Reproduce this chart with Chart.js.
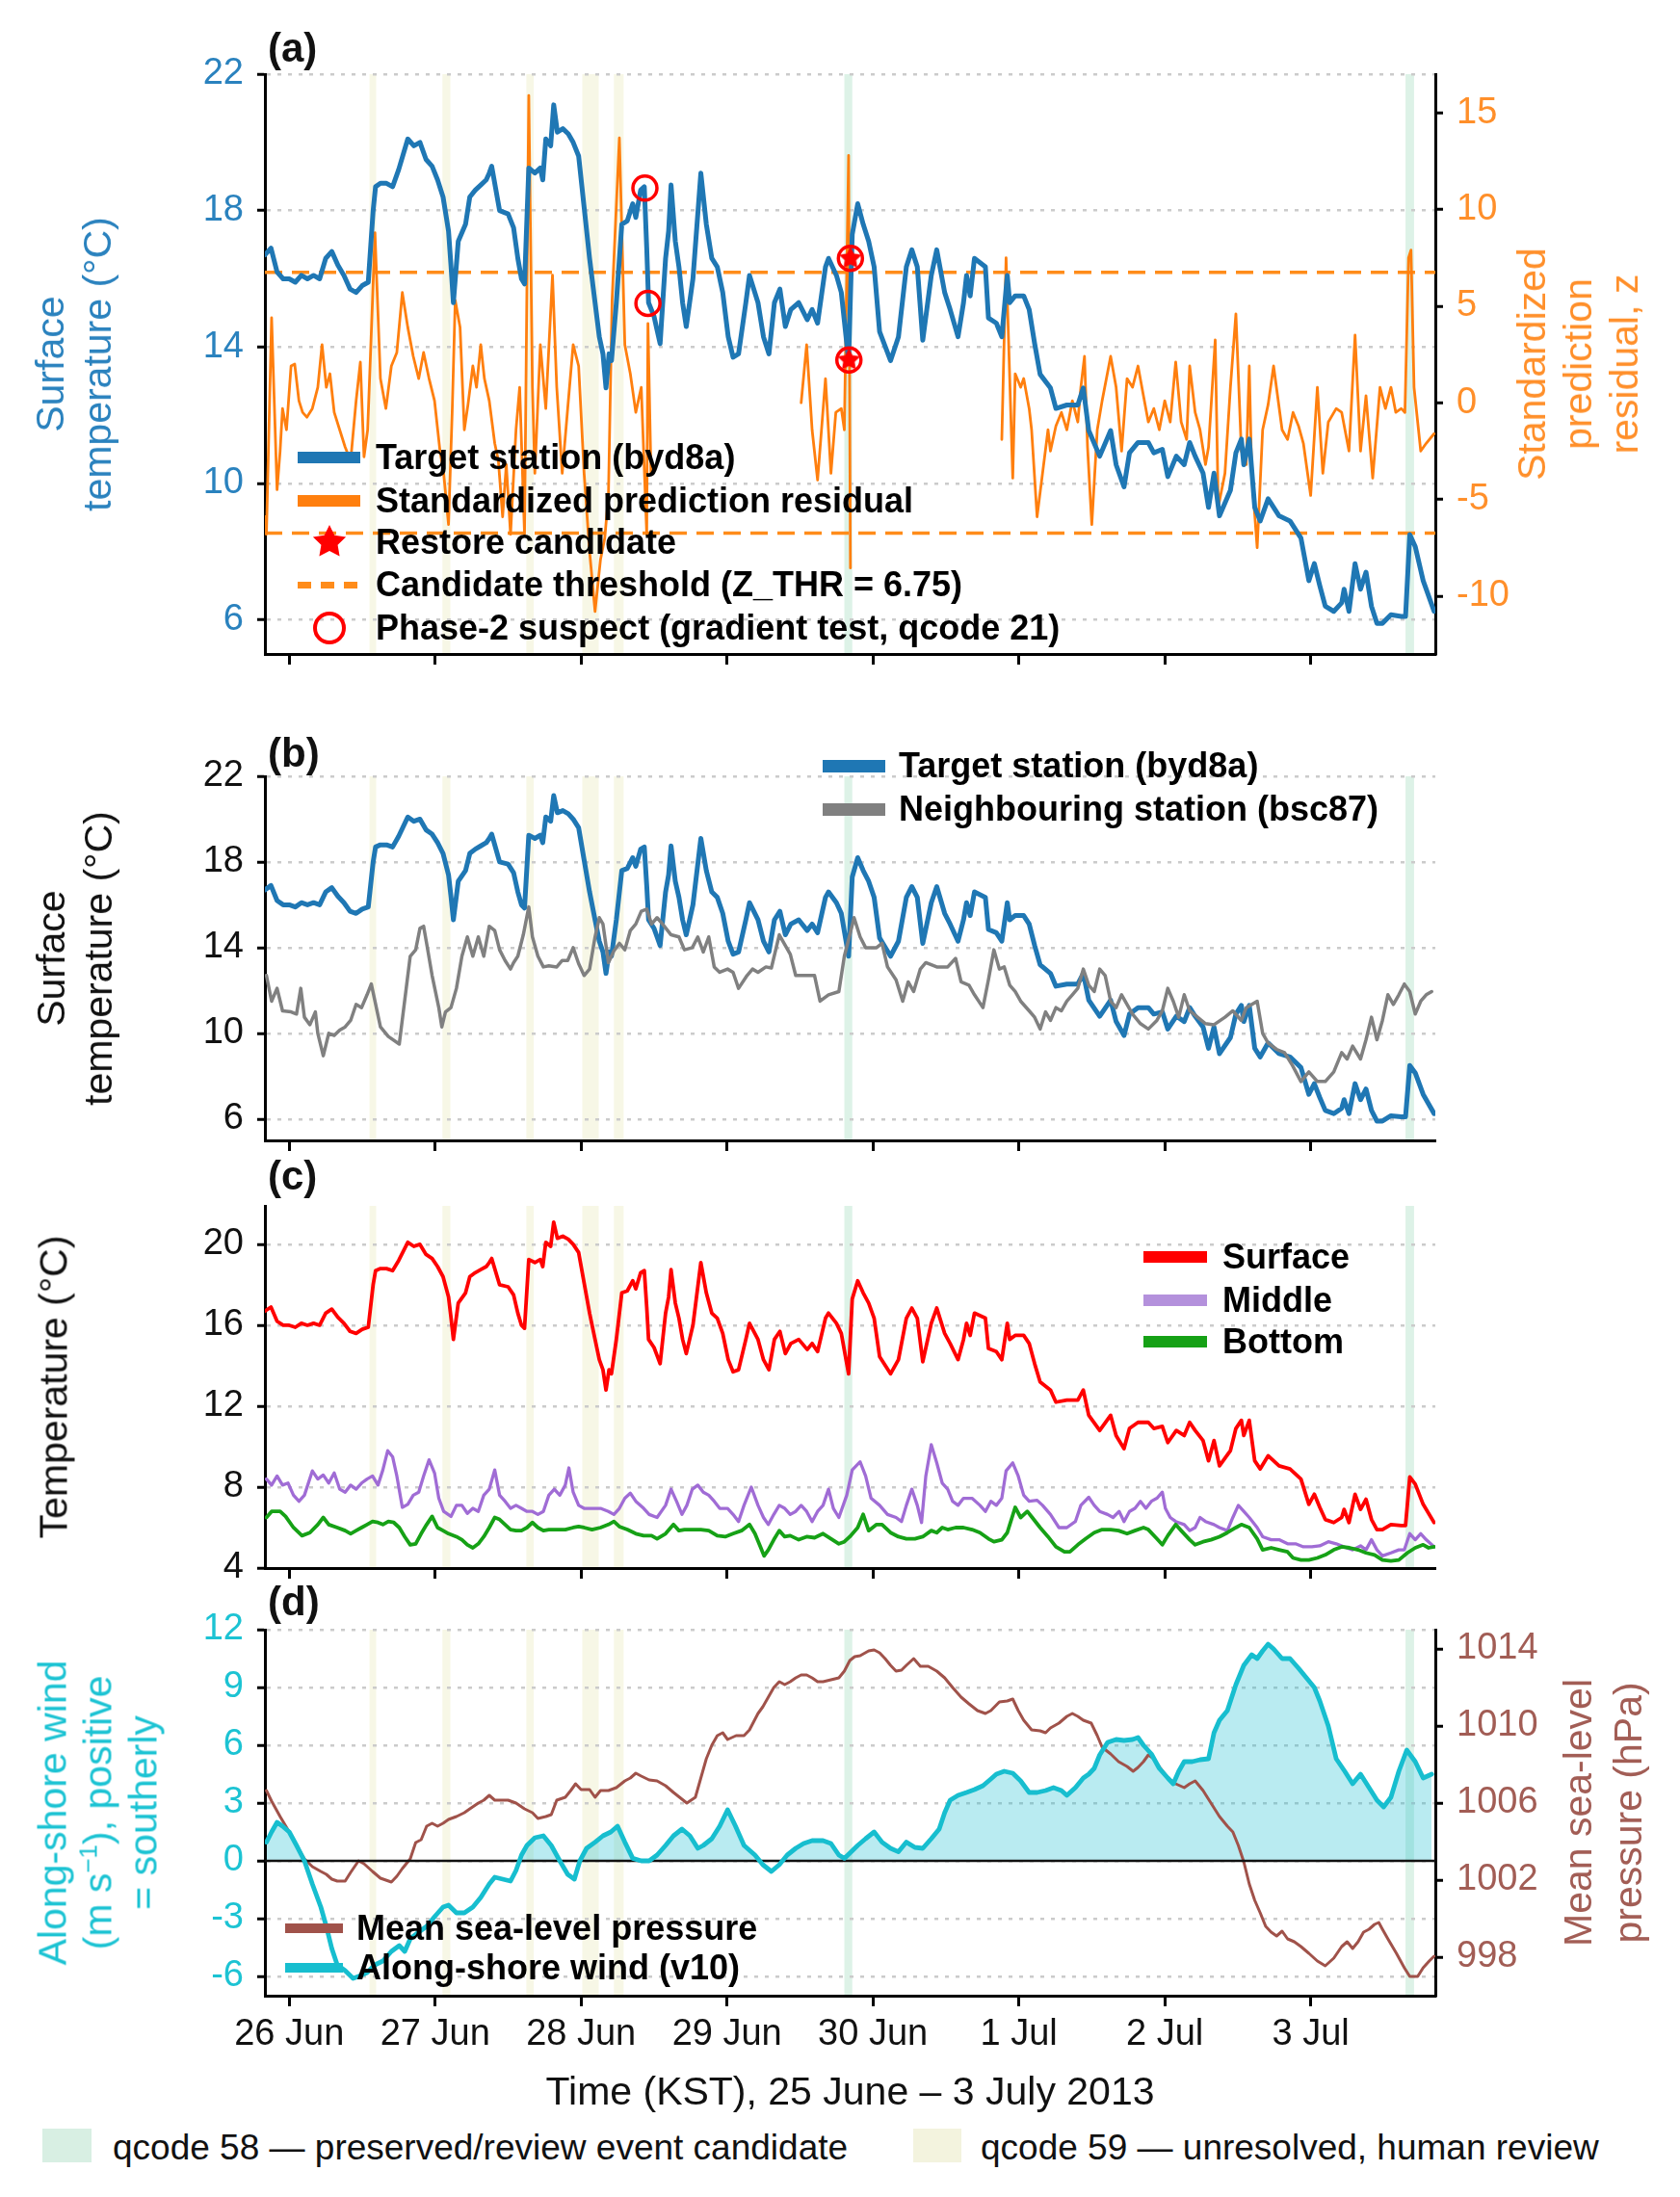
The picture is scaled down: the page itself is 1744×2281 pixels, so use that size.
<!DOCTYPE html>
<html><head><meta charset="utf-8">
<script src="https://cdn.jsdelivr.net/npm/chart.js@4.4.1/dist/chart.umd.min.js"></script>
<style>
html,body{margin:0;padding:0;background:#fff;}
#page{position:relative;width:1744px;height:2281px;overflow:hidden;font-family:"Liberation Sans",Arial,Helvetica,sans-serif;background:#fff;}
canvas{position:absolute;left:0;}
.lbl{position:absolute;font-weight:bold;font-size:42px;line-height:48px;color:#111;white-space:nowrap;}
.lg{position:absolute;font-weight:bold;font-size:36px;line-height:44px;color:#000;white-space:nowrap;}
.sw{position:absolute;}
.rot{position:absolute;transform:translate(-50%,-50%) rotate(-90deg);white-space:nowrap;text-align:center;font-size:41px;line-height:49px;}
.bl{position:absolute;font-size:37px;line-height:44px;color:#111;white-space:nowrap;}
</style></head><body><div id="page">
<canvas id="ca" width="1744" height="652" style="top:47px;width:1744px;height:652px"></canvas>
<canvas id="cb" width="1744" height="428" style="top:776px;width:1744px;height:428px"></canvas>
<canvas id="cc" width="1744" height="426" style="top:1222px;width:1744px;height:426px"></canvas>
<canvas id="cd" width="1744" height="490" style="top:1662px;width:1744px;height:490px"></canvas>

<div class="lbl" style="left:278px;top:26px">(a)</div>
<div class="lbl" style="left:278px;top:758px">(b)</div>
<div class="lbl" style="left:278px;top:1197px">(c)</div>
<div class="lbl" style="left:278px;top:1639px">(d)</div>

<div class="rot" style="left:77px;top:378px;color:#2a82be">Surface<br>temperature (°C)</div>
<div class="rot" style="left:1638px;top:378px;color:#ff8f2a;line-height:48px">Standardized<br>prediction<br>residual, z</div>
<div class="rot" style="left:78px;top:995px;color:#111">Surface<br>temperature (°C)</div>
<div class="rot" style="left:56px;top:1440px;color:#111">Temperature (°C)</div>
<div class="rot" style="left:102px;top:1882px;color:#1cc3d3;line-height:47px">Along-shore wind<br>(m s<sup style="font-size:26px;line-height:0">−1</sup>), positive<br>= southerly</div>
<div class="rot" style="left:1664px;top:1882px;color:#a25d55;line-height:52px">Mean sea-level<br>pressure (hPa)</div>

<!-- legend (a) -->
<div class="sw" style="left:309px;top:469px;width:65px;height:12px;background:#1f77b4"></div>
<div class="lg" style="left:390px;top:453px">Target station (byd8a)</div>
<div class="sw" style="left:309px;top:514px;width:65px;height:12px;background:#ff7f0e"></div>
<div class="lg" style="left:390px;top:498px">Standardized prediction residual</div>
<img id="legStar" class="sw" style="left:323px;top:544px;width:38px;height:38px" alt="">
<div class="lg" style="left:390px;top:541px">Restore candidate</div>
<div class="sw" style="left:309px;top:604px;width:62px;height:7px;background:repeating-linear-gradient(90deg,#ff8c1a 0 14px,rgba(0,0,0,0) 14px 24px)"></div>
<div class="lg" style="left:390px;top:585px">Candidate threshold (Z_THR = 6.75)</div>
<div class="sw" style="left:325px;top:635px;width:26px;height:26px;border:4px solid #ff0000;border-radius:50%"></div>
<div class="lg" style="left:390px;top:630px">Phase-2 suspect (gradient test, qcode 21)</div>

<!-- legend (b) -->
<div class="sw" style="left:854px;top:789px;width:65px;height:13px;background:#1f77b4"></div>
<div class="lg" style="left:933px;top:773px">Target station (byd8a)</div>
<div class="sw" style="left:854px;top:834px;width:65px;height:13px;background:#808080"></div>
<div class="lg" style="left:933px;top:818px">Neighbouring station (bsc87)</div>

<!-- legend (c) -->
<div class="sw" style="left:1187px;top:1299px;width:66px;height:12px;background:#ff0000"></div>
<div class="lg" style="left:1269px;top:1283px">Surface</div>
<div class="sw" style="left:1187px;top:1344px;width:66px;height:12px;background:#b491dc"></div>
<div class="lg" style="left:1269px;top:1328px">Middle</div>
<div class="sw" style="left:1187px;top:1387px;width:66px;height:12px;background:#16a116"></div>
<div class="lg" style="left:1269px;top:1371px">Bottom</div>

<!-- legend (d) -->
<div class="sw" style="left:296px;top:1997px;width:60px;height:10px;background:#a0524a"></div>
<div class="lg" style="left:370px;top:1980px">Mean sea-level pressure</div>
<div class="sw" style="left:296px;top:2038px;width:60px;height:10px;background:#17becf"></div>
<div class="lg" style="left:370px;top:2021px">Along-shore wind (v10)</div>

<div style="position:absolute;left:275px;width:1215px;top:2146px;text-align:center;font-size:41px;line-height:50px;color:#111;white-space:nowrap">Time (KST), 25 June – 3 July 2013</div>

<div class="sw" style="left:44px;top:2210px;width:51px;height:35px;background:#d8efe3"></div>
<div class="bl" style="left:117px;top:2208px">qcode 58 — preserved/review event candidate</div>
<div class="sw" style="left:948px;top:2210px;width:50px;height:35px;background:#f3f3de"></div>
<div class="bl" style="left:1018px;top:2208px">qcode 59 — unresolved, human review</div>
</div>

<script>
// ---------- axis / tick definitions ----------
const X_MIN = -4, X_MAX = 188.5;               // hours from 26 Jun 00:00 KST
const dayTickHours  = [0, 24, 48, 72, 96, 120, 144, 168];
const dayTickLabels = ['26 Jun','27 Jun','28 Jun','29 Jun','30 Jun','1 Jul','2 Jul','3 Jul'];
const tempTicksAB   = [6, 10, 14, 18, 22];
const residualTicks = [-10, -5, 0, 5, 10, 15];
const tempTicksC    = [4, 8, 12, 16, 20];
const windTicks     = [-6, -3, 0, 3, 6, 9, 12];
const pressureTicks = [998, 1002, 1006, 1010, 1014];
const Z_THR = 6.75;
const WIND_ZERO = 0;

// ---------- flagged periods (hours) ----------
const qcode58Bands = [[91.3, 92.6], [183.6, 185.0]];
const qcode59Bands = [[13.2, 14.3], [25.2, 26.5], [39.0, 40.2], [48.2, 50.9], [53.4, 55.0]];

// ---------- markers [hour, °C] ----------
const suspectPoints = [[58.5, 18.66], [59.0, 15.28], [92.3, 16.6], [92.05, 13.62]];
const restorePoints = [[92.3, 16.6], [92.05, 13.62]];

// ---------- series [hour, value] ----------
const targetTemp = [
[-4,16.7],[-3,16.9],[-2,16.2],[-1,16.0],[0,16.0],[1,15.9],[2,16.1],[3,16.0],[4,16.1],[5,16.0],[6,16.6],[7,16.8],[8,16.4],[9,16.1],[10,15.7],[11,15.6],[12,15.8],[13,15.9],[13.8,18.0],[14.2,18.7],[15,18.8],[16,18.8],[17,18.7],[18,19.2],[19.5,20.1],[20.5,19.9],[21.5,20.0],[22.5,19.5],[23.5,19.3],[24.4,18.9],[25.3,18.4],[26.2,17.4],[26.6,16.4],[27,15.3],[27.8,17.1],[29,17.6],[29.7,18.4],[30.6,18.6],[31.5,18.75],[32.4,18.9],[32.9,19.1],[33.3,19.3],[34.6,18.0],[36,17.9],[36.9,17.5],[37.6,16.6],[38.2,16.0],[38.7,15.85],[39.4,19.25],[40.4,19.1],[41.3,19.25],[41.7,18.9],[42.2,20.1],[43,19.9],[43.5,21.1],[44.1,20.3],[45,20.4],[45.9,20.25],[46.7,20.0],[47.6,19.6],[48.5,18.1],[49.4,16.6],[50.3,15.3],[51,14.3],[51.6,13.8],[52.1,12.8],[52.6,13.8],[53,13.6],[53.8,15.3],[54.7,17.6],[55.6,17.7],[56.5,18.2],[57,17.8],[57.8,18.6],[58.4,18.7],[58.8,16.9],[59.1,15.3],[60,14.9],[60.5,14.5],[61,14.1],[61.9,16.6],[62.4,17.4],[62.8,18.75],[63.5,17.1],[64.1,16.35],[64.7,15.3],[65.3,14.6],[66.4,16.0],[67.7,19.1],[68.6,17.6],[69.5,16.6],[70.4,16.35],[71.3,15.6],[72.2,14.3],[73,13.7],[73.9,13.8],[75.1,15.3],[75.7,16.1],[77.1,15.3],[78,14.3],[78.9,13.8],[79.8,15.3],[80.7,15.7],[81.6,14.6],[82.5,15.1],[83.8,15.3],[85.2,14.8],[86,15.1],[86.9,14.7],[88.2,16.35],[88.7,16.6],[90,16.1],[90.8,15.6],[91.7,14.1],[92,13.6],[92.6,17.3],[93.5,18.2],[94.4,17.6],[95.3,17.1],[96.2,16.35],[97.1,14.45],[98.9,13.6],[100.2,14.3],[101.5,16.35],[102.4,16.85],[103.3,16.35],[104.2,14.2],[105.6,16.1],[106.5,16.85],[107.8,15.6],[108.7,15.1],[110,14.3],[110.9,15.3],[111.4,16.1],[112,15.5],[112.7,16.6],[114.5,16.35],[115,14.85],[116.3,14.7],[117.2,14.3],[118.1,16.1],[118.5,15.3],[119.4,15.5],[120.8,15.5],[121.7,15.1],[122.6,14.1],[123.5,13.2],[125.2,12.8],[126.1,12.2],[127.9,12.3],[129.7,12.3],[130.6,12.8],[131.5,11.55],[133.3,10.8],[135.1,11.55],[136,10.55],[137.3,9.9],[138.2,10.9],[139.6,11.2],[141.3,11.2],[142.2,10.9],[143.6,11.0],[144.5,10.2],[145.9,10.8],[147.2,10.55],[148.1,11.2],[149,10.8],[150.3,10.3],[151.2,9.3],[152.1,10.3],[153,9.05],[154.8,9.8],[155.7,10.9],[156.6,11.3],[157,10.55],[157.9,11.3],[158.8,9.3],[159.7,8.9],[161,9.55],[162.8,9.05],[164.6,8.9],[166.4,8.4],[167.7,7.15],[168.6,7.65],[169.5,7.0],[170.4,6.4],[171.8,6.25],[173.1,6.5],[173.5,6.9],[174.3,6.25],[175.3,7.65],[176.2,6.9],[177.1,7.4],[178,6.4],[178.9,5.9],[179.8,5.9],[181.2,6.15],[182.9,6.1],[183.6,6.1],[184.3,8.5],[185.2,8.15],[186.5,7.15],[188.3,6.25]
];

const residualZ = [
[-4,-5.9],[-3.75,-6.8],[-2.9,4.4],[-2,-4.5],[-1.5,-2.5],[-1.1,-0.3],[-0.45,-1.4],[0.3,1.9],[0.9,2.0],[1.6,0.1],[2.2,-0.5],[2.9,-0.75],[3.8,-0.3],[4.7,0.8],[5.4,3.0],[6.1,0.8],[6.7,1.5],[7.4,-0.5],[8.3,-1.4],[9.2,-2.3],[10.1,-3.0],[11,0.1],[11.7,2.1],[12.3,-2.8],[12.9,-1.4],[13.7,5.3],[14.1,8.8],[15,1.25],[15.9,-0.3],[16.8,1.9],[17.7,2.6],[18.6,5.7],[19.5,3.9],[20.4,2.4],[21.3,1.25],[22.1,2.6],[23,1.25],[23.9,0.1],[24.8,-2.5],[25.4,-3.65],[26.2,-6.3],[26.8,-0.5],[27.3,5.3],[28.1,3.9],[28.8,-1.4],[29.4,-0.1],[30.2,1.9],[30.8,0.8],[31.5,3.0],[32.1,1.25],[32.9,0.1],[33.8,-2.1],[34.4,-3.0],[35.1,-5.9],[35.7,-3.2],[36.4,-6.8],[37.3,-1.4],[37.9,0.8],[38.7,-6.8],[39.4,15.9],[40,0.8],[40.4,-3.65],[41.3,3.0],[42.2,-0.3],[43.3,6.6],[44,0.8],[44.9,-3.65],[45.8,-0.3],[46.7,3.0],[47.6,1.9],[48.5,-3.65],[49.4,-7.7],[50.3,-10.8],[51.2,-8.1],[51.9,-7.0],[52.5,-4.8],[53.1,5.3],[54.3,13.7],[55.2,3.0],[56.1,1.5],[57,-0.5],[57.9,0.8],[58.8,-6.8],[59,4.1],[59.5,-3.65],[59.8,null],
[84.2,0.0],[85.1,3.0],[86,-1.4],[86.9,-4.0],[88.2,1.25],[89.1,-3.65],[89.9,-0.5],[90.8,-0.3],[91.3,-1.4],[92,12.8],[92.3,-8.55],[92.5,null],
[117.2,-1.9],[117.9,7.5],[119,-3.9],[119.4,1.5],[120.3,0.8],[120.8,1.25],[121.7,-0.3],[122.1,-1.4],[123,-5.9],[123.9,-3.65],[124.8,-1.4],[125.2,-2.5],[126.1,-1.2],[127,-0.5],[127.9,-1.4],[128.8,0.1],[129.7,-1.0],[130.2,0.8],[130.8,2.4],[131.3,-2.3],[132,-6.3],[132.9,-1.4],[133.7,0.1],[135.1,2.4],[136,0.8],[136.9,-2.5],[137.8,1.25],[138.7,0.8],[139.6,1.9],[140.5,0.36],[141.3,-1.0],[142.2,-0.3],[143.1,-1.4],[144,0.1],[144.9,-1.0],[145.8,2.1],[146.7,-1.0],[147.6,-1.9],[148.1,1.9],[149,-0.5],[149.8,-1.4],[150.7,-3.2],[151.2,-2.3],[152.3,3.25],[152.8,-5.4],[153.9,-3.65],[154.8,0.8],[155.7,4.6],[156.6,-2.5],[157.4,-3.2],[157.9,1.9],[158.3,-3.65],[159.2,-7.5],[160.1,-1.4],[161,-0.1],[161.9,1.9],[163.3,-1.4],[164.2,-1.9],[165.1,-0.5],[166,-1.2],[166.8,-2.1],[168,-4.8],[169.1,0.8],[170,-3.65],[170.9,-1.0],[172.2,-0.3],[173.1,-0.5],[174.3,-2.5],[175.3,3.5],[176.2,-2.5],[177.1,0.36],[178.2,-3.9],[179.4,0.8],[180.3,-0.3],[181.2,0.8],[182,-0.5],[182.9,-0.3],[183.5,-0.5],[184.1,7.5],[184.5,7.9],[185,0.8],[186.1,-2.5],[187,-2.1],[188.3,-1.6]
];

const neighbourTemp = [
[-3.75,12.7],[-2.9,11.5],[-2,12.1],[-1.1,11.05],[0.3,11.0],[1.2,10.9],[1.9,12.1],[2.5,10.75],[3.4,10.4],[4.3,11.0],[4.7,10.0],[5.6,8.95],[6.5,10.0],[7.4,9.9],[8.3,10.15],[9.2,10.3],[10.1,10.6],[11,11.35],[11.9,11.2],[12.8,11.8],[13.5,12.3],[14.1,11.5],[15,10.3],[16.3,9.85],[18.1,9.5],[19.9,13.6],[20.8,13.9],[21.5,14.9],[22.1,15.0],[22.6,14.2],[23.5,12.7],[24.6,11.2],[25.1,10.3],[25.7,11.0],[26.6,11.2],[27.5,12.1],[28.4,13.6],[29.3,14.5],[30.2,13.6],[31.1,14.5],[32,13.6],[32.9,15.0],[33.8,14.8],[34.6,13.9],[35.5,13.4],[36.4,13.0],[36.9,13.3],[37.6,13.6],[38.5,14.6],[39.4,15.9],[40,14.5],[40.9,13.6],[41.8,13.1],[42.7,13.15],[44,13.1],[44.9,13.4],[45.8,13.4],[46.7,14.0],[47.6,13.25],[48.5,12.7],[49.4,13.0],[50.3,14.5],[51,15.4],[51.6,15.1],[52.5,13.3],[53.4,13.85],[54.3,14.2],[55.2,13.9],[56.1,14.8],[57,15.1],[57.9,15.7],[58.8,15.8],[59.6,15.1],[60.5,15.4],[61.4,15.1],[62.8,14.6],[64.1,14.5],[65,13.9],[66.3,14.0],[67.2,14.5],[68.1,13.8],[69,14.5],[69.9,13.1],[70.8,12.85],[72.1,13.0],[73,12.85],[73.9,12.1],[75.3,12.7],[76.2,13.0],[77.1,12.85],[78.4,13.1],[79.3,13.05],[80.6,14.6],[81.5,14.15],[82.4,13.7],[83.3,12.7],[85.1,12.7],[86.4,12.7],[87.3,11.5],[88.7,11.8],[90.4,11.95],[91.3,13.6],[92.2,14.6],[92.9,15.4],[93.9,14.5],[94.8,14.0],[96.6,14.0],[97.5,14.2],[98.4,13.1],[99.8,12.5],[100.9,11.5],[101.8,12.4],[102.7,11.95],[103.8,13.0],[104.7,13.3],[106.5,13.1],[108.3,13.1],[109.6,13.5],[110.5,12.4],[111.8,12.25],[112.7,11.8],[114.1,11.2],[115,12.5],[115.9,13.9],[116.8,13.0],[117.6,13.1],[118.5,12.25],[119.4,11.95],[120.3,11.5],[121.7,11.05],[122.6,10.75],[123.5,10.2],[124.4,11.0],[125.2,10.6],[126.1,11.2],[127,11.05],[127.9,11.5],[128.8,11.8],[129.7,12.1],[130.6,13.0],[131.5,12.25],[132.4,11.95],[133.3,13.0],[134.2,12.7],[135.1,11.5],[136,11.2],[136.9,11.8],[137.8,11.35],[138.7,10.9],[140,10.45],[141.3,10.2],[142.7,10.6],[143.6,11.05],[144.5,12.1],[145.4,11.5],[146.3,10.75],[147.2,11.8],[148.1,11.05],[149.4,10.75],[150.7,10.45],[152.1,10.4],[153.9,10.75],[155.2,11.05],[156.6,10.6],[157.4,11.2],[159.2,11.5],[160.1,10.0],[161,9.55],[162.4,9.25],[163.7,9.1],[165,8.5],[166.4,7.75],[167.7,8.2],[169.1,7.75],[170.4,7.75],[171.8,8.2],[173.1,9.1],[174,8.8],[174.9,9.4],[176.2,8.8],[177.1,9.7],[178,10.75],[178.9,9.7],[179.8,10.6],[180.7,11.8],[181.6,11.35],[182.5,11.8],[183.4,12.3],[184.3,11.95],[185.2,10.9],[186.1,11.5],[187,11.8],[187.9,11.95]
];

const middleTemp = [
[-3.75,8.4],[-2.9,8.1],[-2,8.55],[-1.1,8.1],[-0.2,8.2],[0.7,7.6],[1.6,7.3],[2.5,7.6],[3.8,8.8],[4.7,8.4],[5.6,8.6],[6.5,8.2],[7.4,8.7],[8.3,7.9],[9.2,7.75],[10.1,8.1],[11,7.9],[11.9,8.2],[12.8,8.4],[13.7,8.55],[14.6,8.1],[15.4,8.85],[16.2,9.8],[17,9.5],[17.7,8.55],[18.6,7.0],[19.5,7.15],[20.4,7.6],[21.3,7.75],[22.1,8.55],[23,9.35],[23.9,8.7],[24.6,7.45],[25.4,6.8],[26.6,6.55],[27.5,7.1],[28.4,7.1],[29.3,6.7],[30.2,6.95],[31.1,6.8],[32,7.6],[32.9,7.9],[33.8,8.85],[34.6,7.6],[35.5,7.3],[36.4,6.95],[37.3,7.1],[38.2,6.95],[39.1,6.8],[40,6.8],[40.9,6.65],[41.8,6.8],[42.7,7.6],[43.6,7.9],[44.5,7.6],[45.4,8.1],[46,8.95],[46.7,7.75],[47.6,7.1],[48.5,6.95],[49.8,6.95],[51.2,6.95],[52.5,6.8],[53.4,6.65],[54.3,6.95],[55.2,7.45],[56.1,7.7],[57,7.3],[58.3,6.95],[59.2,6.65],[60.5,6.5],[61.9,7.1],[62.8,7.9],[63.7,7.3],[64.6,6.65],[65.4,7.1],[66.3,7.9],[67.2,8.1],[68.1,7.75],[69,7.6],[69.9,7.3],[70.8,6.95],[72.1,6.95],[73,6.65],[73.9,6.3],[74.8,7.1],[76,8.0],[77.1,7.1],[78,6.5],[78.8,6.15],[79.7,6.65],[80.6,7.1],[81.5,6.95],[82.4,6.65],[83.3,6.8],[84.2,7.1],[85.1,6.8],[86,6.3],[86.9,6.8],[87.8,7.1],[88.7,7.9],[89.5,6.95],[90.4,6.5],[91.7,7.6],[92.6,8.85],[93.9,9.25],[94.8,8.55],[95.7,7.45],[97.1,7.1],[98.4,6.65],[99.8,6.5],[100.7,6.3],[101.5,7.1],[102.4,7.9],[103.3,7.1],[104,6.25],[104.7,8.55],[105.6,10.1],[106.5,9.2],[107.4,8.2],[108.3,7.9],[109.1,7.3],[110,7.1],[110.9,7.45],[112.3,7.45],[113.6,7.1],[114.5,6.8],[115.4,7.3],[116.3,7.1],[117.2,7.45],[117.9,8.8],[119,9.2],[119.9,8.55],[120.8,7.6],[121.7,7.3],[123,7.35],[123.9,7.1],[125.2,6.65],[126.6,6.0],[127.9,6.0],[129.3,6.3],[130.2,7.1],[131.5,7.5],[132.4,7.1],[133.3,6.8],[134.6,6.65],[135.5,6.5],[136.5,6.8],[137.3,6.3],[138.2,6.8],[139.1,6.95],[140,7.3],[140.9,6.95],[141.8,7.3],[142.7,7.45],[143.6,7.75],[144.1,6.95],[144.9,6.5],[145.8,6.3],[147.2,6.15],[148.1,5.85],[149,6.0],[149.8,6.5],[150.7,6.3],[152.1,6.15],[153,6.0],[154.3,5.85],[155.2,6.5],[156.1,7.1],[157,6.8],[157.9,6.5],[159.2,6.0],[160.1,5.55],[161.5,5.4],[162.8,5.4],[164.2,5.2],[165.5,5.2],[166.8,5.05],[168.2,5.05],[169.5,5.1],[170.9,5.3],[172.2,5.2],[173.5,5.05],[174.9,4.9],[176.2,5.1],[177.1,4.9],[178,5.4],[178.9,4.9],[179.8,4.6],[181.2,4.75],[182.5,4.9],[183.4,4.9],[184.3,5.7],[185.2,5.4],[186.1,5.7],[187,5.4],[188.3,5.05]
];

const bottomTemp = [
[-3.75,6.5],[-2.9,6.8],[-1.5,6.8],[-0.6,6.55],[0.7,6.0],[2.1,5.6],[3.4,5.75],[4.7,6.15],[5.6,6.5],[6.5,6.15],[7.9,6.0],[9.2,5.85],[10.1,5.7],[11,5.85],[11.9,6.0],[12.8,6.15],[13.7,6.3],[14.6,6.25],[15.4,6.15],[16.3,6.3],[17.2,6.25],[18.1,6.0],[19,5.55],[19.9,5.15],[20.8,5.2],[21.7,5.7],[22.6,6.15],[23.5,6.55],[24.4,6.0],[25.3,5.85],[26.2,5.7],[27.5,5.55],[28.4,5.4],[29.3,5.15],[30.2,5.0],[31.1,5.2],[32,5.55],[32.9,6.0],[33.8,6.5],[34.6,6.4],[35.5,6.15],[36.4,5.9],[37.3,5.85],[38.2,5.85],[39.1,6.0],[40,6.25],[40.9,6.0],[41.8,5.85],[42.7,5.9],[44,5.9],[45.4,5.9],[46.7,6.0],[47.6,6.05],[48.5,6.0],[49.8,5.9],[51.2,6.0],[52.5,6.15],[53.4,6.3],[54.3,6.05],[55.6,5.9],[57,5.7],[58.3,5.6],[59.6,5.6],[60.5,5.45],[61.9,5.7],[63.2,6.15],[64.1,5.85],[65,5.9],[66.3,5.9],[67.7,5.9],[69,5.85],[70.4,5.6],[71.7,5.55],[73,5.7],[74.4,5.85],[75.7,6.15],[76.6,5.7],[77.5,5.05],[78.1,4.6],[78.8,4.9],[79.7,5.4],[80.6,5.85],[81.5,5.55],[82.4,5.6],[83.8,5.4],[85.1,5.55],[86.4,5.5],[87.8,5.7],[89.1,5.45],[90.4,5.2],[91.3,5.3],[92.2,5.55],[93.5,6.0],[94.4,6.65],[95.3,5.85],[96.6,6.15],[97.5,6.15],[98.9,5.75],[100.2,5.55],[101.5,5.45],[102.9,5.45],[104.2,5.55],[105.6,5.85],[106.5,5.75],[107.4,6.0],[108.3,5.9],[109.6,6.0],[110.9,6.0],[112.3,5.9],[113.6,5.75],[115,5.45],[115.9,5.3],[117.2,5.4],[118.1,5.75],[119.4,7.0],[120.3,6.5],[121.4,6.8],[122.2,6.5],[123.5,6.0],[124.8,5.55],[126.1,5.05],[127.5,4.8],[128.4,4.8],[129.7,5.15],[131,5.45],[132.4,5.75],[133.7,5.9],[135.1,5.9],[136.4,5.85],[137.8,5.7],[139.1,5.85],[140.5,6.0],[141.3,5.9],[142.7,5.45],[143.6,5.15],[144.5,5.6],[145.8,6.15],[146.7,5.85],[148.1,5.4],[149,5.15],[150.3,5.3],[151.6,5.4],[153,5.55],[154.3,5.75],[155.7,6.0],[156.6,6.15],[157.9,6.0],[159.2,5.45],[160.1,4.9],[161.5,5.0],[162.8,4.9],[164.2,4.8],[165.1,4.5],[166.4,4.4],[167.7,4.4],[169.1,4.5],[170.4,4.65],[171.8,4.9],[173.1,5.05],[174.4,5.0],[175.8,4.9],[177.1,4.75],[178.5,4.65],[179.8,4.4],[181.2,4.35],[182.5,4.4],[183.9,4.75],[185.2,5.0],[186.5,5.15],[187.4,5.0],[188.3,5.05]
];

const windV10 = [
[-3.75,0.97],[-2.9,1.5],[-2,2.0],[-1.1,1.8],[0,1.5],[1.2,0.8],[2.5,0.0],[3.8,-1.2],[5.2,-2.4],[6.1,-3.4],[7,-4.55],[7.9,-5.4],[9.2,-5.7],[10.5,-6.1],[11.4,-6.0],[12.8,-5.8],[14.1,-5.4],[15.4,-5.2],[16.8,-4.7],[18.1,-4.4],[19,-4.7],[19.9,-4.05],[21.3,-3.7],[22.6,-3.4],[23.9,-2.9],[25.3,-2.4],[26.2,-2.3],[27.5,-2.7],[28.8,-2.7],[30.2,-2.4],[31.5,-1.9],[32.9,-1.2],[33.8,-0.85],[35.1,-0.95],[36.4,-1.05],[37.3,-0.5],[38.2,0.3],[39.1,0.8],[40.4,1.2],[41.8,1.3],[43.1,0.8],[44.5,0.0],[45.8,-0.7],[46.9,-0.95],[47.8,0.0],[48.9,0.65],[50.3,0.97],[51.6,1.3],[52.9,1.5],[54,1.8],[55.2,0.97],[56.5,0.13],[57.9,0.0],[59.2,0.0],[60.5,0.3],[61.9,0.8],[63.2,1.3],[64.6,1.65],[65.9,1.3],[67.2,0.65],[68.1,0.8],[69.5,1.15],[70.8,1.8],[72.1,2.65],[73.4,1.8],[74.8,0.8],[76.6,0.3],[77.9,-0.2],[79.3,-0.55],[80.6,-0.2],[81.9,0.3],[83.3,0.65],[84.6,0.9],[86,1.05],[87.8,1.05],[89.1,0.9],[90.4,0.3],[91.3,0.13],[92.2,0.4],[93.5,0.8],[94.8,1.15],[96.2,1.5],[97.5,0.97],[98.9,0.65],[100.2,0.47],[101.5,0.97],[102.9,0.7],[104.2,0.65],[105.6,1.15],[106.9,1.65],[107.8,2.5],[108.7,3.15],[110,3.4],[111.4,3.55],[112.7,3.7],[114.1,3.9],[115.4,4.25],[116.3,4.5],[117.6,4.65],[119,4.55],[120.3,4.15],[121.7,3.55],[123,3.55],[124.4,3.65],[125.7,3.8],[127,3.65],[127.9,3.4],[129.3,3.8],[130.6,4.3],[131.5,4.5],[132.4,4.8],[133.3,5.5],[134.6,6.15],[136,6.3],[137.3,6.25],[138.7,6.3],[139.6,6.4],[140.5,6.0],[141.8,5.55],[143.1,4.8],[144.5,4.3],[145.4,4.0],[146.3,4.65],[147.2,5.15],[148.5,5.15],[149.8,5.25],[151.2,5.3],[152.1,6.65],[153,7.3],[154.3,7.8],[155.7,9.15],[157,10.15],[158.3,10.7],[159.2,10.5],[160.1,10.9],[161,11.25],[161.9,11.0],[163.3,10.5],[164.6,10.5],[166,10.0],[167.3,9.5],[168.6,9.0],[169.5,8.3],[170.9,7.0],[172.2,5.3],[173.6,4.65],[174.9,4.0],[176.2,4.5],[177.6,3.8],[178.9,3.15],[180,2.8],[181.2,3.3],[182.5,4.65],[183.8,5.75],[185.2,5.15],[186.5,4.3],[187.9,4.5]
];

const mslPressure = [
[-3.75,1006.65],[-2.9,1006.1],[-1.5,1005.3],[0,1004.5],[1.2,1003.8],[2.5,1003.1],[3.8,1002.7],[5.2,1002.45],[6.1,1002.3],[7,1002.05],[7.9,1001.95],[9.2,1001.95],[10.1,1002.4],[11.4,1003.0],[12.3,1002.85],[13.7,1002.45],[15,1002.1],[16.8,1001.9],[17.7,1002.2],[18.6,1002.6],[19.9,1003.1],[20.8,1003.95],[21.7,1004.1],[22.6,1004.8],[23.5,1004.95],[24.4,1004.8],[25.3,1004.95],[26.2,1005.15],[27.5,1005.3],[28.8,1005.5],[29.7,1005.7],[31.1,1006.0],[32,1006.15],[32.9,1006.4],[33.8,1006.15],[34.6,1006.15],[36,1006.15],[37.3,1006.0],[38.7,1005.7],[40,1005.5],[40.9,1005.2],[42.2,1005.3],[43.1,1005.4],[44,1006.15],[45.4,1006.3],[46.3,1006.65],[47.1,1007.0],[48,1006.7],[49.4,1006.7],[50.3,1006.3],[51.2,1006.65],[52.5,1006.65],[53.8,1006.8],[55.2,1007.15],[56.1,1007.3],[57,1007.55],[57.9,1007.4],[59.2,1007.2],[60.5,1007.15],[61.9,1006.9],[63.2,1006.55],[64.6,1006.2],[65.4,1006.0],[66.8,1006.3],[67.7,1007.3],[68.6,1008.3],[69.5,1009.0],[70.4,1009.5],[71.3,1009.65],[72.1,1009.3],[73.5,1009.5],[74.8,1009.5],[75.7,1009.8],[77.1,1010.65],[77.9,1011.0],[78.8,1011.5],[79.7,1012.0],[80.6,1012.3],[81.5,1012.15],[82.4,1012.3],[83.3,1012.5],[84.2,1012.65],[85.1,1012.65],[86,1012.5],[86.9,1012.3],[87.8,1012.3],[89.1,1012.4],[90.4,1012.5],[91.3,1012.85],[92.2,1013.4],[93,1013.6],[93.9,1013.65],[95.3,1013.9],[96.2,1013.95],[97.1,1013.8],[98,1013.5],[98.9,1013.15],[99.8,1012.85],[100.7,1012.9],[101.5,1013.15],[102.7,1013.5],[103.8,1013.1],[105.1,1013.1],[106.5,1012.85],[107.8,1012.5],[109.1,1012.0],[110.5,1011.5],[111.8,1011.15],[113.2,1010.8],[114.5,1010.65],[115.4,1010.8],[116.8,1011.25],[118.1,1011.3],[119,1011.4],[119.9,1010.8],[120.8,1010.3],[122.1,1009.8],[123.5,1009.75],[124.4,1009.65],[125.2,1009.9],[126.6,1010.15],[127.9,1010.5],[128.8,1010.65],[129.7,1010.5],[130.6,1010.3],[131.9,1010.15],[132.9,1009.5],[133.7,1008.9],[135.1,1008.55],[136.4,1008.15],[137.8,1007.9],[138.8,1007.65],[139.6,1007.85],[140.5,1008.15],[141.3,1008.5],[142.2,1008.3],[143.3,1007.8],[144.5,1007.3],[145.8,1007.0],[147.2,1006.8],[148.1,1007.0],[149,1007.15],[150.3,1006.65],[151.6,1006.0],[153,1005.3],[154.3,1004.8],[155.2,1004.5],[156.1,1003.8],[157,1002.95],[157.9,1001.8],[158.8,1000.95],[159.7,1000.3],[160.6,999.6],[161.5,999.3],[162.4,999.1],[163.3,999.35],[164.2,998.95],[165.3,998.8],[166.4,998.55],[167.7,998.2],[169.1,997.8],[170.4,997.55],[171.8,997.95],[173.1,998.55],[174,998.8],[174.9,998.45],[175.8,998.8],[176.7,999.3],[177.6,999.45],[178.5,999.7],[179.2,999.8],[179.8,999.45],[180.7,998.95],[182.1,998.2],[183.4,997.45],[184.3,997.0],[185.6,997.0],[186.5,997.45],[187.5,997.8],[188.3,998.05]
];

// ---------- styling ----------
const C = {blue:'#1f77b4', orange:'#ff7f0e', gray:'#808080', red:'#ff0000', purple:'#a06cd5', green:'#16a116',
           cyan:'#17becf', brown:'#a0524a', band58:'#ddf2e7', band59:'#f7f7e6',
           tickA:'#2a82be', tickZ:'#ff8f2a', tickW:'#1cc3d3', tickP:'#a25d55'};
Chart.defaults.font.family = '"Liberation Sans", Arial, Helvetica, sans-serif';
Chart.defaults.color = '#111';

const pts = arr => arr.map(([x, y]) => ({x, y}));
const across = v => [{x: X_MIN, y: v}, {x: X_MAX, y: v}];

function makeStar(r) {
  const s = Math.ceil(2 * r + 2), c = document.createElement('canvas');
  c.width = s; c.height = s;
  const g = c.getContext('2d');
  g.fillStyle = '#ff0000'; g.beginPath();
  for (let i = 0; i < 10; i++) {
    const rr = i % 2 ? r * 0.5 : r, a = -Math.PI / 2 + i * Math.PI / 5;
    g.lineTo(s / 2 + rr * Math.cos(a), s / 2 + rr * Math.sin(a));
  }
  g.closePath(); g.fill();
  return c;
}
const starMarker = makeStar(12.5);
document.getElementById('legStar').src = makeStar(18).toDataURL();

const noPad = s => { s.paddingTop = 0; s.paddingBottom = 0; s.paddingLeft = 0; s.paddingRight = 0; };

function xAxis(labels) {
  return {type: 'linear', min: X_MIN, max: X_MAX,
    afterBuildTicks: s => { s.ticks = dayTickHours.map(v => ({value: v})); },
    afterFit: s => { s.height = labels ? 80 : 20; noPad(s); },
    grid: {display: true, drawOnChartArea: false, drawTicks: true, tickLength: 11, tickColor: '#000', tickWidth: 3},
    border: {display: true, color: '#000', width: 3},
    ticks: {display: labels, color: '#111', font: {size: 38}, padding: 7, maxRotation: 0, minRotation: 0, autoSkip: false,
      callback: v => { const i = dayTickHours.indexOf(v); return i >= 0 ? dayTickLabels[i] : ''; }}
  };
}
function yAxis(pos, min, max, tickVals, color, gridOn) {
  return {type: 'linear', position: pos, min, max,
    afterBuildTicks: s => { s.ticks = tickVals.map(v => ({value: v})); },
    afterFit: s => { s.width = pos === 'left' ? 275 : 150; noPad(s); },
    grid: {display: true, drawOnChartArea: gridOn, color: '#cbcbcb', lineWidth: 2.5, drawTicks: true, tickLength: 8, tickColor: '#000', tickWidth: 3},
    border: {display: true, color: '#000', width: 3, dash: [4, 7]},
    ticks: {color, font: {size: 38}, padding: 14, autoSkip: false, callback: v => String(v)}
  };
}

// flagged-period bands are painted before the grid so the dotted grid shows through
const bandPlugin = {
  id: 'qcBands',
  beforeDraw(chart) {
    const {ctx, chartArea: a, scales: {x}} = chart;
    if (!a || !x) return;
    ctx.save();
    const paint = (bands, col) => {
      ctx.fillStyle = col;
      bands.forEach(([h0, h1]) => {
        const x0 = x.getPixelForValue(h0), x1 = x.getPixelForValue(h1);
        ctx.fillRect(x0, a.top, x1 - x0, a.bottom - a.top);
      });
    };
    paint(qcode59Bands, C.band59);
    paint(qcode58Bands, C.band58);
    ctx.restore();
  }
};

function line(data, color, width, axis, extra) {
  return Object.assign({data, borderColor: color, backgroundColor: color, borderWidth: width,
    pointRadius: 0, fill: false, yAxisID: axis || 'y', spanGaps: false}, extra || {});
}

function makeChart(id, datasets, scales, padRight) {
  return new Chart(document.getElementById(id), {
    type: 'line',
    data: {datasets},
    options: {
      responsive: false, maintainAspectRatio: false, animation: false, events: [],
      layout: {padding: {top: 30, left: 0, right: padRight, bottom: 0}, autoPadding: false},
      plugins: {legend: {display: false}, tooltip: {enabled: false}, filler: {drawTime: 'beforeDatasetsDraw'}},
      elements: {line: {tension: 0, borderJoinStyle: 'round', borderCapStyle: 'round'}, point: {radius: 0}},
      scales
    },
    plugins: [bandPlugin]
  });
}

// ---------- (a) ----------
makeChart('ca', [
  {data: pts(restorePoints), showLine: false, pointStyle: starMarker, pointRadius: 12, yAxisID: 'y'},
  {data: pts(suspectPoints), showLine: false, pointStyle: 'circle', pointRadius: 12.5, pointBorderWidth: 3.5,
   pointBorderColor: C.red, pointBackgroundColor: 'rgba(0,0,0,0)', borderColor: C.red, yAxisID: 'y'},
  line(pts(targetTemp), C.blue, 5, 'y'),
  line(pts(residualZ), C.orange, 2.8, 'y2'),
  line(across(Z_THR), '#ff8c1a', 3.5, 'y2', {borderDash: [18, 10], borderCapStyle: 'butt'}),
  line(across(-Z_THR), '#ff8c1a', 3.5, 'y2', {borderDash: [18, 10], borderCapStyle: 'butt'})
], {x: xAxis(false), y: yAxis('left', 5, 22, tempTicksAB, C.tickA, true), y2: yAxis('right', -13, 17, residualTicks, C.tickZ, false)}, 104);

// ---------- (b) ----------
makeChart('cb', [
  line(pts(neighbourTemp), C.gray, 3.5, 'y'),
  line(pts(targetTemp), C.blue, 5, 'y')
], {x: xAxis(false), y: yAxis('left', 5, 22, tempTicksAB, '#111', true)}, 254);

// ---------- (c) ----------
makeChart('cc', [
  line(pts(bottomTemp), C.green, 3.8, 'y'),
  line(pts(middleTemp), C.purple, 3.3, 'y'),
  line(pts(targetTemp), C.red, 3.8, 'y')
], {x: xAxis(false), y: yAxis('left', 4, 21.9, tempTicksC, '#111', true)}, 254);

// ---------- (d) ----------
makeChart('cd', [
  line(pts(windV10), C.cyan, 4.8, 'y', {fill: {target: {value: WIND_ZERO}, above: 'rgba(23,190,207,0.3)', below: 'rgba(0,0,0,0)'}}),
  line(across(WIND_ZERO), '#111', 2.5, 'y', {borderCapStyle: 'butt'}),
  line(pts(mslPressure), C.brown, 3, 'y2')
], {x: xAxis(true), y: yAxis('left', -7, 12, windTicks, C.tickW, true), y2: yAxis('right', 996, 1015, pressureTicks, C.tickP, false)}, 104);
</script>
</body></html>
